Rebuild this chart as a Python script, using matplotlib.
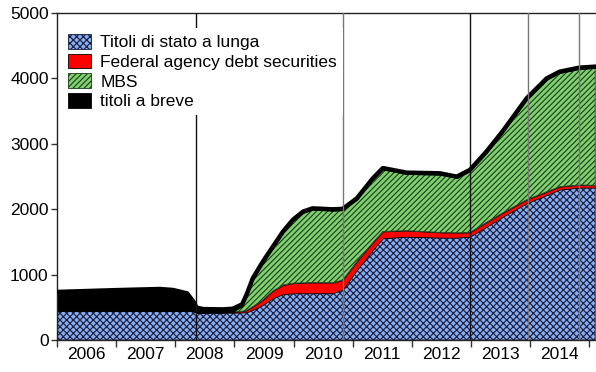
import matplotlib
matplotlib.use("Agg")
import matplotlib.pyplot as plt
import numpy as np

plt.rcParams['font.family'] = ['Liberation Sans', 'DejaVu Sans']
plt.rcParams['hatch.linewidth'] = 0.8

# decimal-year dates
dates = [2006.00, 2007.01, 2007.74, 2007.96, 2008.20, 2008.30, 2008.36, 2008.47,
         2008.80, 2008.97, 2009.13, 2009.21, 2009.31, 2009.48, 2009.65, 2009.82,
         2009.99, 2010.16, 2010.32, 2010.66, 2010.83, 2011.07, 2011.34, 2011.51,
         2011.91, 2012.47, 2012.76, 2012.98, 2013.26, 2013.53, 2013.94, 2014.28,
         2014.50, 2014.83, 2015.10]

treasury = [445, 448, 450, 450, 448, 445, 420, 418,
            418, 418, 420, 425, 460, 535, 640, 700,
            714, 714, 714, 714, 770, 1070, 1376, 1555,
            1580, 1565, 1565, 1580, 1730, 1880, 2090, 2217,
            2300, 2330, 2330]

agency = [0, 0, 0, 0, 0, 0, 0, 0,
          5, 15, 20, 30, 50, 77, 110, 140,
          155, 160, 165, 162, 147, 130, 115, 105,
          92, 80, 75, 65, 68, 62, 55, 50,
          45, 40, 35]

mbs = [0, 0, 0, 0, 0, 0, 0, 0,
       0, 0, 75, 230, 413, 566, 657, 797,
       951, 1069, 1114, 1102, 1068, 946, 961, 949,
       867, 884, 838, 935, 1062, 1224, 1530, 1714,
       1738, 1774, 1795]

bills = [290, 315, 330, 315, 265, 150, 75, 55,
         45, 45, 30, 20, 20, 20, 20, 20,
         20, 20, 20, 20, 20, 20, 20, 20,
         20, 20, 20, 20, 20, 20, 20, 20,
         20, 20, 20]

labels = ["Titoli di stato a lunga", "Federal agency debt securities", "MBS", "titoli a breve"]
year_ticks = list(range(2006, 2016))
event_dates = [2008.35, 2010.83, 2012.98, 2013.97, 2014.83]
event_colors = ['#111111', '#777777', '#111111', '#777777', '#777777']

x = np.array(dates)
t = np.array(treasury, float)
a = np.array(agency, float)
m = np.array(mbs, float)
b = np.array(bills, float)

fig = plt.figure(figsize=(5.96, 3.72), dpi=100)
ax = fig.add_axes([57/596, 1-340/372, (597-57)/596, (340-13)/372])

c1 = t
c2 = c1 + a
c3 = c2 + m
c4 = c3 + b

h1 = ax.fill_between(x, 0, c1, facecolor='#86aef0', edgecolor='#1a1a3a', hatch='xxxxx', linewidth=0.6, zorder=2)
h2 = ax.fill_between(x, c1, c2, facecolor='#ff0000', edgecolor='black', linewidth=0.6, zorder=2)
h3 = ax.fill_between(x, c2, c3, facecolor='#80d070', edgecolor='#1a3a1a', hatch='//////', linewidth=0.6, zorder=2)
h4 = ax.fill_between(x, c3, c4, facecolor='black', edgecolor='black', linewidth=0.6, zorder=2)
ax.plot(x, c4, color='black', linewidth=3.2, solid_joinstyle='round', zorder=3)

for d, c in zip(event_dates, event_colors):
    ax.axvline(d, color=c, linewidth=1.0, zorder=4)

ax.set_xlim(2006.0, 2015.13)
ax.set_ylim(0, 5000)
ax.set_yticks(range(0, 5001, 1000))
ax.set_xticks(year_ticks)
ax.set_xticklabels([])
ax.set_xticks([y + 0.5 for y in year_ticks[:-1]], minor=True)
ax.set_xticklabels([str(y) for y in year_ticks[:-1]], minor=True)
ax.tick_params(axis='x', which='minor', length=0, pad=5, labelsize=12.5)
ax.tick_params(axis='x', which='major', direction='out', length=5, width=1, color='#333333')
ax.tick_params(axis='y', direction='out', length=4, width=1, color='#333333', labelsize=12.5, pad=2)

for s in ['left', 'bottom', 'top', 'right']:
    ax.spines[s].set_color('#222222')
    ax.spines[s].set_linewidth(1.0)

leg = ax.legend([h1, h2, h3, h4], labels, loc='upper left', bbox_to_anchor=(0.0, 0.97),
                fontsize=12.5, frameon=True, fancybox=False, framealpha=1.0,
                edgecolor='none', facecolor='white', handlelength=1.3, handleheight=0.9,
                handletextpad=0.55, labelspacing=0.2, borderaxespad=0.3, borderpad=0.35)
leg.set_zorder(5)

fig.savefig('out.png', dpi=100)
